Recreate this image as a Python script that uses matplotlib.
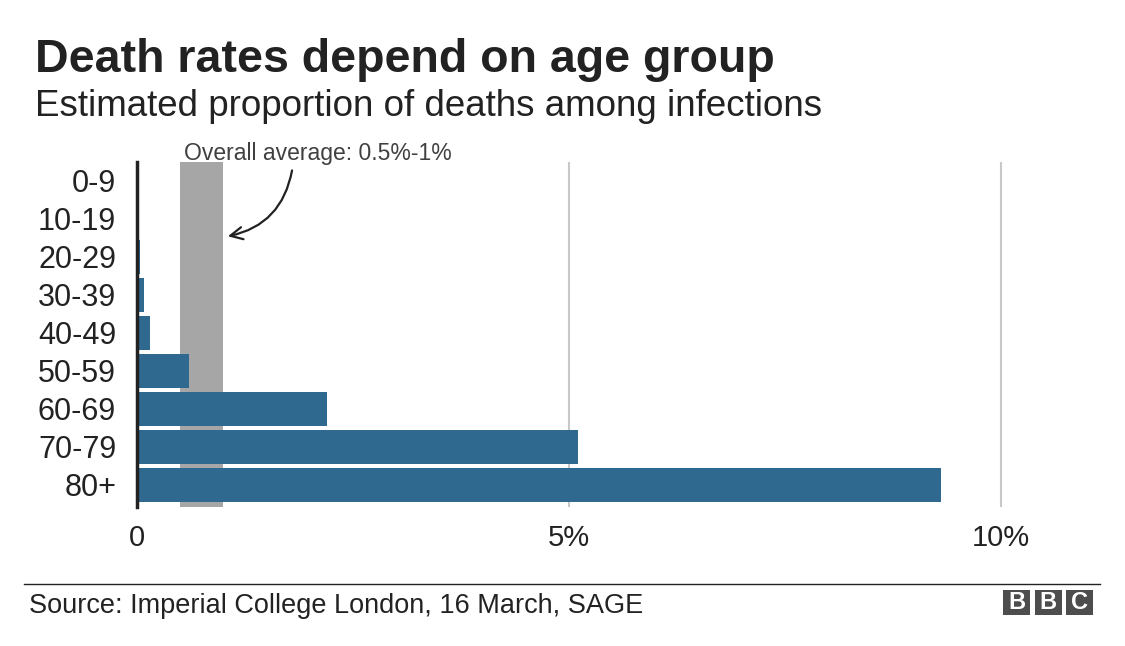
import matplotlib
matplotlib.use('Agg')
from matplotlib import pyplot as plt
from matplotlib.patches import Rectangle

ages = ['0-9', '10-19', '20-29', '30-39', '40-49', '50-59', '60-69', '70-79', '80+']
death_rate = [0.002, 0.006, 0.03, 0.08, 0.15, 0.6, 2.2, 5.1, 9.3]
avg_low, avg_high = 0.5, 1.0
xticks = [0, 5, 10]
xtick_labels = ['0', '5%', '10%']

plt.rcParams['font.family'] = ['Liberation Sans', 'DejaVu Sans']

W, H = 1125, 646
fig = plt.figure(figsize=(W / 100, H / 100), dpi=100)


def fx(px):
    return px / W


def fy(py):
    return 1 - py / H


ax = fig.add_axes([fx(137), fy(507), fx(950.4), (507 - 162) / H])

ax.axvspan(avg_low, avg_high, color='#a6a6a6', zorder=1, lw=0)
for t in xticks[1:]:
    ax.axvline(t, color='#c8c8c8', lw=1.5, zorder=0)
ax.barh(range(len(ages)), death_rate, height=0.89, color='#2f6990', zorder=2)

ax.set_xlim(0, 11)
ax.set_ylim(8.58, -0.5)
ax.set_yticks(range(len(ages)))
ax.set_yticklabels(ages, fontsize=22, color='#222222')
ax.set_xticks(xticks)
ax.set_xticklabels(xtick_labels, fontsize=21, color='#222222')
ax.tick_params(length=0)
ax.tick_params(axis='y', pad=15)
ax.tick_params(axis='x', pad=12)
for s in ['top', 'right', 'bottom']:
    ax.spines[s].set_visible(False)
ax.spines['left'].set_color('#222222')
ax.spines['left'].set_linewidth(2.5)
ax.spines['left'].set_zorder(3)

ax.annotate('', xy=(1.02, 1.47), xytext=(1.8, -0.35),
            arrowprops=dict(arrowstyle='->', color='#222222', lw=1.6,
                            connectionstyle='arc3,rad=-0.35',
                            mutation_scale=22))
fig.text(fx(184), fy(160), 'Overall average: 0.5%-1%', fontsize=16.5,
         color='#404040', va='baseline', ha='left')

fig.text(fx(35), fy(72), 'Death rates depend on age group', fontsize=33.5,
         fontweight='bold', color='#222222', va='baseline')
fig.text(fx(35), fy(116), 'Estimated proportion of deaths among infections',
         fontsize=26.5, color='#222222', va='baseline')

fig.add_artist(plt.Line2D([fx(24), fx(1100)], [fy(584), fy(584)],
                          color='#222222', lw=1))
fig.text(fx(29), fy(613), 'Source: Imperial College London, 16 March, SAGE',
         fontsize=19.5, color='#222222', va='baseline')

for i, letter in enumerate('BBC'):
    x0 = 1003 + i * 31.5
    fig.add_artist(Rectangle((fx(x0), fy(615)), fx(27), 25 / H,
                             transform=fig.transFigure, color='#4d4d4d', lw=0))
    fig.text(fx(x0 + 13.5), fy(602.5), letter, fontsize=17, fontweight='bold',
             color='white', ha='center', va='center')

fig.savefig('out.png', dpi=100)
